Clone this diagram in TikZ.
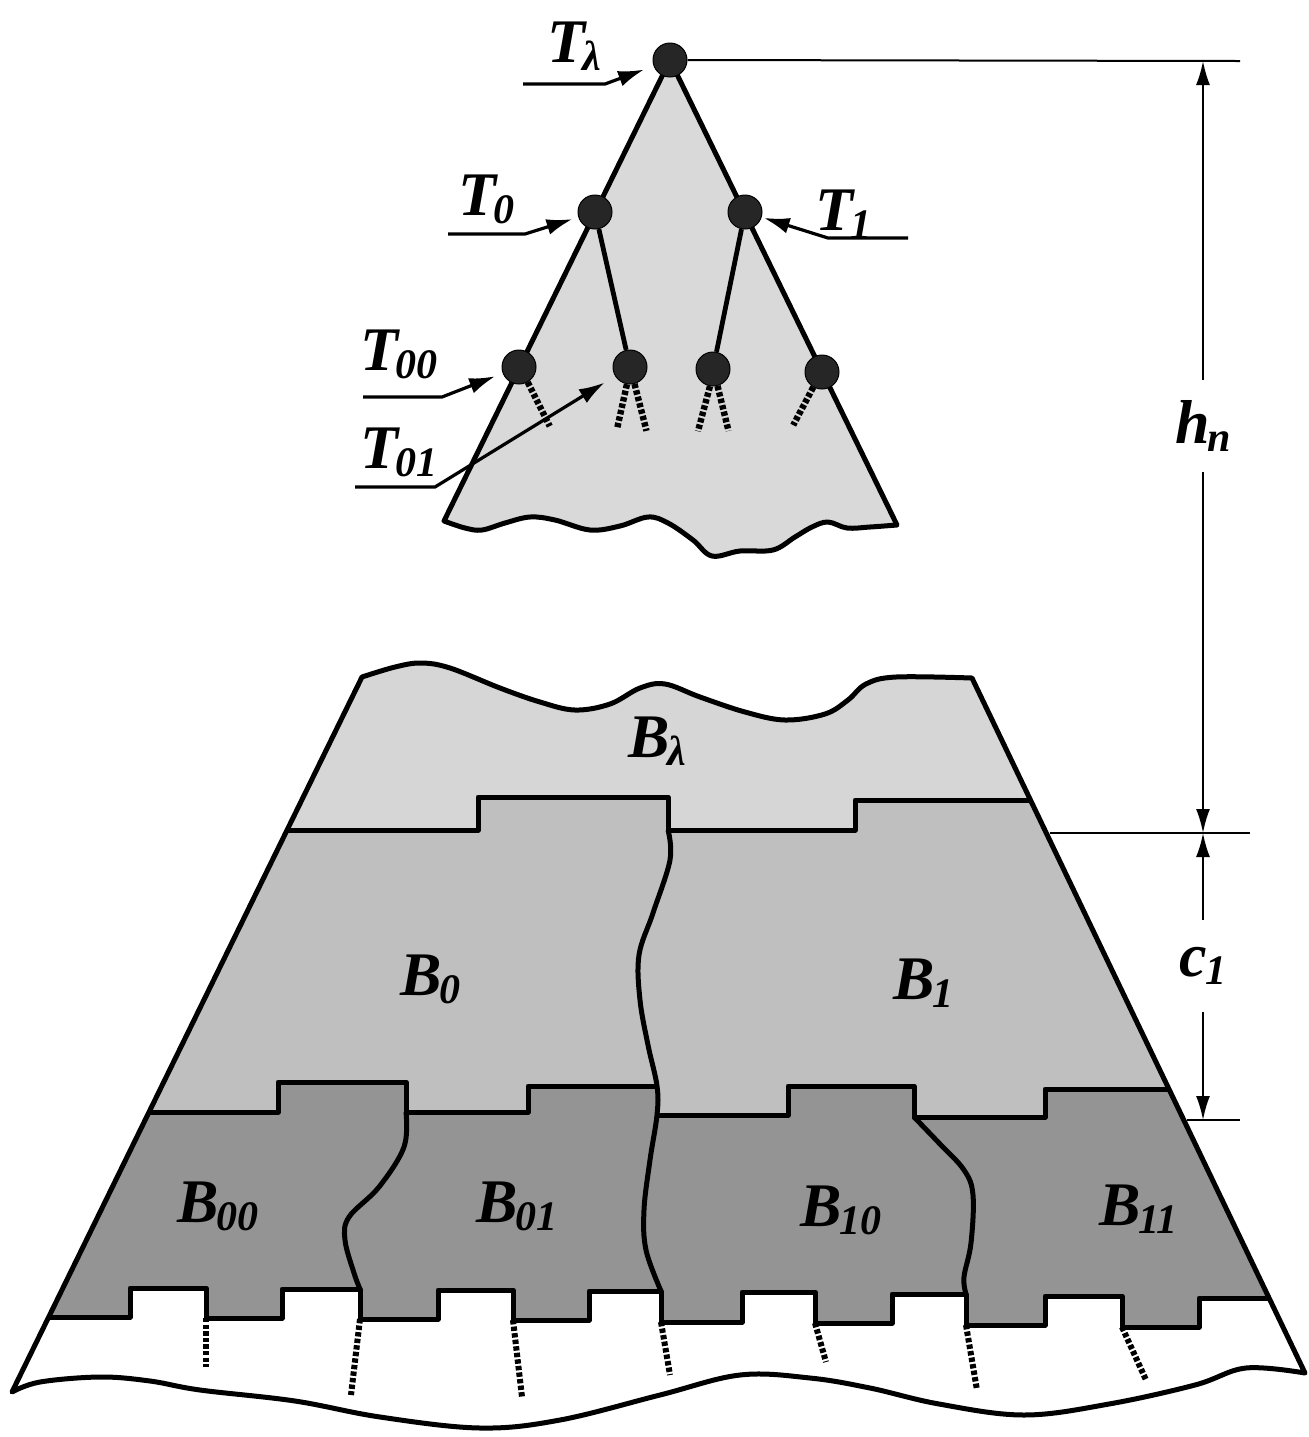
\documentclass[tikz,border=0pt]{standalone}
\usepackage{fontspec}
\setmainfont{Liberation Serif}
\usetikzlibrary{arrows.meta}
\newcommand\sbs[1]{\kern-0.04em\raisebox{-0.3ex}{\fontsize{21}{21}\selectfont\bfseries\itshape #1}}
\definecolor{trifill}{gray}{0.85}
\definecolor{lamfill}{gray}{0.84}
\definecolor{onefill}{gray}{0.75}
\definecolor{twofill}{gray}{0.58}
\begin{document}
\begin{tikzpicture}[x=0.5pt,y=-0.5pt,
  outline/.style={line width=2.5pt,line join=round},
  edge/.style={line width=2.4pt},
  tnode/.style={circle,fill=black!85,draw=black,line width=0.5pt,minimum size=17pt,inner sep=0pt},
  lblarrow/.style={line width=1.6pt,-{Latex[length=13pt,width=8pt]}},
  dimline/.style={line width=1pt},
  dimarrow/.style={line width=1pt,-{Latex[length=12pt,width=7pt]}},
  stubline/.style={line width=3.2pt,dash pattern=on 2.2pt off 1.1pt},
  stubline2/.style={line width=3pt,dash pattern=on 2.2pt off 1.1pt},
  lab/.style={font=\fontsize{31}{31}\selectfont\bfseries\itshape,inner sep=0pt,anchor=base west},
  dimlab/.style={font=\fontsize{31}{31}\selectfont\bfseries\itshape,inner xsep=0pt,inner ysep=0pt,minimum height=46pt}]
\useasboundingbox (0,0) rectangle (1309,1437);

% ---------- top triangle ----------
\draw[outline,fill=trifill] (670,60) -- (897,525) -- plot[smooth,tension=0.6] coordinates {(897,525) (870,527) (847,528) (828,522) (812,527) (795,537) (773,550) (740,551) (712,556) (693,540) (668,523) (648,517) (620,526) (590,530) (555,520) (530,517) (505,523) (482,530) (465,528) (444,521)} -- cycle;

\node[tnode] (tl) at (670,60) {};
\node[tnode] (t0) at (595,212) {};
\node[tnode] (t1) at (745,212) {};
\node[tnode] (t00) at (519,367) {};
\node[tnode] (t01) at (630,367) {};
\node[tnode] (t10) at (713,369) {};
\node[tnode] (t11) at (822,372) {};

\draw[edge] (t0) -- (t01);
\draw[edge] (t1) -- (t10);

\draw[stubline] (t00.300) -- ++(22,44);
\draw[stubline] (t01.260) -- ++(-10,45);
\draw[stubline] (t01.285) -- ++(12,47);
\draw[stubline] (t10.260) -- ++(-12,45);
\draw[stubline] (t10.285) -- ++(11,45);
\draw[stubline] (t11.240) -- ++(-20,38);

% labels of tree nodes
\node[lab] (lTl) at (547,62) {T\sbs{λ}};
\node[lab] (lT0) at (458,215) {T\sbs{0}};
\node[lab] (lT1) at (815,230) {T\sbs{1}};
\node[lab] (lT00) at (360,370) {T\sbs{00}};
\node[lab] (lT01) at (360,468) {T\sbs{01}};

\coordinate (aLs) at (523,84);  \coordinate (aLb) at (605,84);
\coordinate (a0s) at (448,234); \coordinate (a0b) at (525,234);
\coordinate (a1s) at (908,238); \coordinate (a1b) at (828,238);
\coordinate (a00s) at (363,397); \coordinate (a00b) at (442,397);
\coordinate (a01s) at (355,487); \coordinate (a01b) at (435,487);
\draw[lblarrow,shorten >=5pt] (aLs) -- (aLb) -- (tl);
\draw[lblarrow,shorten >=3pt] (a0s) -- (a0b) -- (t0);
\draw[lblarrow,shorten >=1pt] (a1s) -- (a1b) -- (t1);
\draw[lblarrow,shorten >=4pt] (a00s) -- (a00b) -- (t00);
\draw[lblarrow,shorten >=6pt] (a01s) -- (a01b) -- (t01);

% ---------- bottom trapezoid ----------
\begin{scope}
\clip (362,677) -- plot[smooth,tension=0.6] coordinates {(362,677) (395,667) (421,663) (450,668) (500,688) (540,702) (575,710) (610,704) (640,688) (665,684) (700,697) (745,712) (785,720) (825,714) (848,700) (866,684) (896,677) (972,678)} -- (1305,1373) -- plot[smooth,tension=0.6] coordinates {(1305,1373) (1246,1368) (1195,1385) (1109,1404) (1024,1415) (939,1404) (870,1388) (810,1378) (740,1375) (660,1395) (560,1420) (480,1428) (380,1417) (295,1401) (200,1390) (150,1381) (100,1377) (40,1382) (12,1392)} -- cycle;
\fill[lamfill] (0,600) rectangle (1309,1437);
\fill[onefill] (0,830) -- (478,830) -- (478,797) -- (668,797) -- (668,830) -- (855,830) -- (855,800) -- (1309,800) -- (1309,1437) -- (0,1437) -- cycle;
\fill[twofill] (0,1112) -- (278,1112) -- (278,1082) -- (406,1082) -- (406,1112) -- (528,1112) -- (528,1086) -- (657,1086) -- (657,1115) -- (788,1115) -- (788,1086) -- (914,1086) -- (914,1117) -- (1045,1117) -- (1045,1089) -- (1309,1089) -- (1309,1437) -- (0,1437) -- cycle;
\fill[white] (0,1317) -- (130,1317) -- (130,1288) -- (206,1288) -- (206,1318) -- (282,1318) -- (282,1289) -- (360,1289) -- (360,1319) -- (438,1319) -- (438,1290) -- (513,1290) -- (513,1320) -- (589,1320) -- (589,1291) -- (661,1291) -- (661,1322) -- (742,1322) -- (742,1292) -- (815,1292) -- (815,1323) -- (892,1323) -- (892,1294) -- (966,1294) -- (966,1325) -- (1045,1325) -- (1045,1296) -- (1122,1296) -- (1122,1327) -- (1199,1327) -- (1199,1298) -- (1309,1298) -- (1309,1437) -- (0,1437) -- cycle;

\draw[outline] (0,830) -- (478,830) -- (478,797) -- (668,797) -- (668,830) -- (855,830) -- (855,800) -- (1309,800);
\draw[outline] (0,1112) -- (278,1112) -- (278,1082) -- (406,1082) -- (406,1112) -- (528,1112) -- (528,1086) -- (657,1086);
\draw[outline] (657,1115) -- (788,1115) -- (788,1086) -- (914,1086) -- (914,1117) -- (1045,1117) -- (1045,1089) -- (1309,1089);
\draw[outline] (0,1317) -- (130,1317) -- (130,1288) -- (206,1288) -- (206,1318) -- (282,1318) -- (282,1289) -- (360,1289) -- (360,1319) -- (438,1319) -- (438,1290) -- (513,1290) -- (513,1320) -- (589,1320) -- (589,1291) -- (661,1291) -- (661,1322) -- (742,1322) -- (742,1292) -- (815,1292) -- (815,1323) -- (892,1323) -- (892,1294) -- (966,1294) -- (966,1325) -- (1045,1325) -- (1045,1296) -- (1122,1296) -- (1122,1327) -- (1199,1327) -- (1199,1298) -- (1309,1298);

% dividers
\draw[outline] plot[smooth,tension=0.6] coordinates {(668,830) (670,860) (653,913) (639,955) (640,1000) (648,1045) (657,1086) (657,1115) (650,1160) (644,1210) (646,1250) (661,1291)};
\draw[outline] plot[smooth,tension=0.6] coordinates {(406,1112) (404,1147) (379,1187) (349,1217) (345,1240) (354,1273) (360,1289)};
\draw[outline] plot[smooth,tension=0.6] coordinates {(914,1117) (939,1143) (964,1170) (973,1195) (971,1243) (964,1277) (966,1294)};

% dashed continuations
\draw[stubline2] (206,1318) -- (206,1367);
\draw[stubline2] (360,1319) -- (351,1395);
\draw[stubline2] (513,1320) -- (522,1397);
\draw[stubline2] (661,1322) -- (670,1375);
\draw[stubline2] (815,1323) -- (826,1362);
\draw[stubline2] (966,1325) -- (977,1390);
\draw[stubline2] (1122,1327) -- (1146,1380);
\end{scope}
\draw[outline] (362,677) -- plot[smooth,tension=0.6] coordinates {(362,677) (395,667) (421,663) (450,668) (500,688) (540,702) (575,710) (610,704) (640,688) (665,684) (700,697) (745,712) (785,720) (825,714) (848,700) (866,684) (896,677) (972,678)} -- (1305,1373) -- plot[smooth,tension=0.6] coordinates {(1305,1373) (1246,1368) (1195,1385) (1109,1404) (1024,1415) (939,1404) (870,1388) (810,1378) (740,1375) (660,1395) (560,1420) (480,1428) (380,1417) (295,1401) (200,1390) (150,1381) (100,1377) (40,1382) (12,1392)} -- cycle;

% region labels
\node[lab] (lBl) at (628,757) {B\sbs{λ}};
\node[lab] (lB0) at (400,995) {B\sbs{0}};
\node[lab] (lB1) at (893,999) {B\sbs{1}};
\node[lab] (lB00) at (177,1222) {B\sbs{00}};
\node[lab] (lB01) at (476,1222) {B\sbs{01}};
\node[lab] (lB10) at (800,1226) {B\sbs{10}};
\node[lab] (lB11) at (1099,1225) {B\sbs{11}};

% ---------- dimensions ----------
\coordinate (e1) at (1240,61);
\coordinate (e2a) at (1050,833); \coordinate (e2b) at (1250,833);
\coordinate (e3a) at (1187,1120); \coordinate (e3b) at (1240,1120);
\draw[dimline] (tl.east) -- (e1);
\draw[dimline] (e2a) -- (e2b);
\draw[dimline] (e3a) -- (e3b);
\coordinate (h1) at (1203,61);
\coordinate (h2) at (1203,833);
\coordinate (c2) at (1203,1120);
\node[dimlab] (hn) at (1203,426) {h\sbs{n}};
\node[dimlab] (cl) at (1203,966) {c\sbs{1}};
\draw[dimarrow] (hn.north) -- (h1);
\draw[dimarrow] (hn.south) -- (h2);
\draw[dimarrow] (cl.north) -- (h2);
\draw[dimarrow] (cl.south) -- (c2);
\end{tikzpicture}
\end{document}
